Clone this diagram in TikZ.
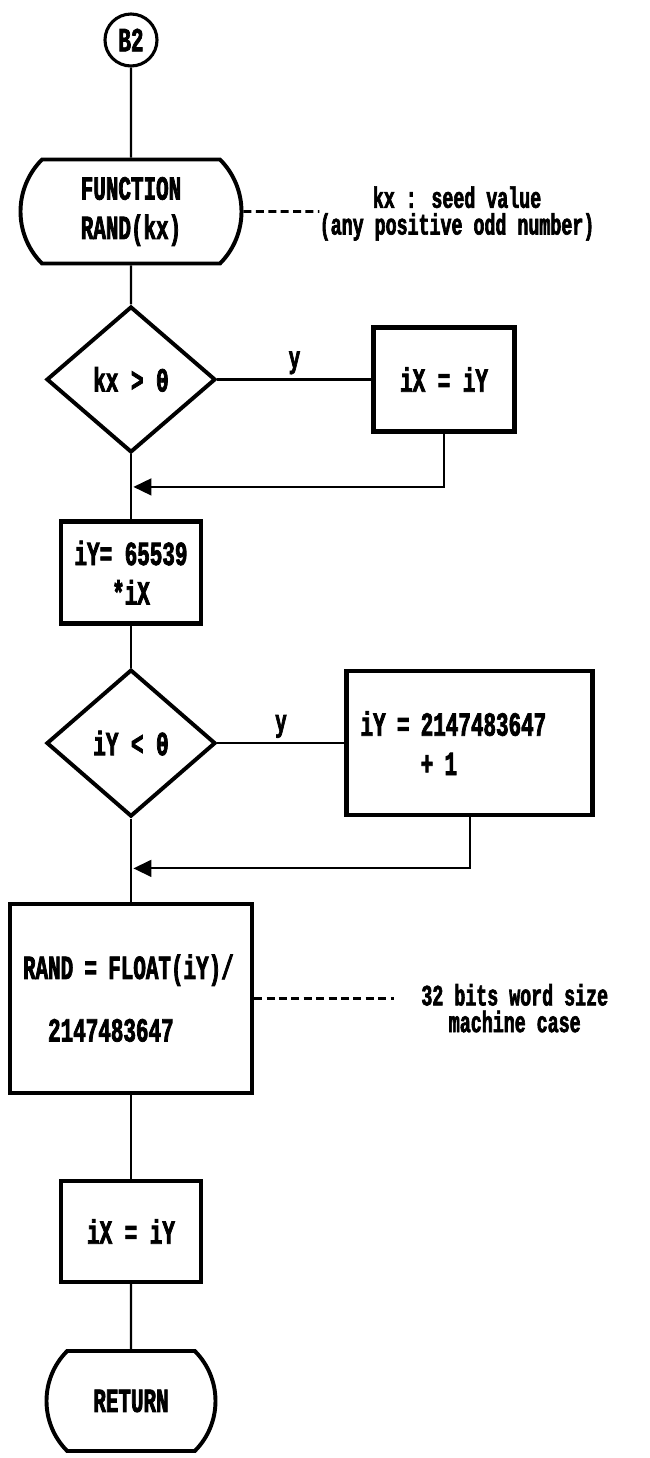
\documentclass[tikz,border=0pt]{standalone}
\usepackage{fontspec}
\newfontfamily\dotfont{Liberation Mono}[FakeStretch=0.62,FakeBold=2.2]
\usetikzlibrary{arrows.meta,positioning,calc,shapes.geometric,shapes.misc}
\tikzset{
  chart/.style={align=center, inner sep=0pt, text=black,
                font=\dotfont\bfseries\fontsize{24}{28}\selectfont},
  connector/.style={chart, circle, draw, line width=2.2pt, minimum size=13mm},
  terminal/.style={chart, rounded rectangle, rounded rectangle arc length=90,
                   draw, line width=2.8pt, minimum height=26mm},
  decision/.style={chart, diamond, draw, line width=2.8pt,
                   minimum width=42.25mm, minimum height=36.5mm},
  process/.style={chart, rectangle, draw, line width=3pt},
  note/.style={align=center, inner sep=0pt,
               font=\dotfont\bfseries\fontsize{21}{19}\selectfont},
  flow/.style={line width=1.5pt},
  flowback/.style={flow, -{Triangle[length=4.5mm, width=4.2mm]}, shorten >=0.6mm},
  notelink/.style={line width=2pt, dash pattern=on 2mm off 1.1mm},
  flowlabel/.style={font=\dotfont\bfseries\fontsize{22}{24}\selectfont, inner sep=3pt},
}
\begin{document}
\begin{tikzpicture}[node distance=11mm and 38mm]
  \useasboundingbox (0,0) rectangle (162.5mm,-364.5mm);
  \node[connector] (b2) at (32.75mm,-10mm) {B2};
  \node[terminal, minimum width=55.25mm, below=22.5mm of b2] (fn) {FUNCTION\\RAND(kx)};
  \node[decision, below=9.75mm of fn] (kxpos) {kx > 0};
  \node[process, minimum width=35.25mm, minimum height=26mm, right=38.5mm of kxpos] (copyx) {iX = iY};
  \node[process, minimum width=35mm, minimum height=25.5mm, below=16.25mm of kxpos] (mult) {iY= 65539\\*iX};
  \node[decision, minimum height=36.75mm, below=10.5mm of mult] (iyneg) {iY < 0};
  \node[process, minimum width=61.5mm, minimum height=36mm, text width=54.5mm, align=left,
        right=31.75mm of iyneg] (wrap) {iY = 2147483647\\\phantom{iY = }+ 1};
  \node[process, minimum width=60.5mm, minimum height=47.25mm, text width=54mm, align=left,
        below=20.75mm of iyneg] (rand) {RAND = FLOAT(iY)/\\[5.8mm]\phantom{RA}2147483647};
  \node[process, minimum width=35mm, minimum height=25.25mm, below=21mm of rand] (keep) {iX = iY};
  \node[terminal, minimum width=42.25mm, minimum height=25mm, below=16.25mm of keep] (ret) {RETURN};
  % side notes
  \node[note, right=19mm of fn, yshift=-0.5mm] (seed) {kx : seed value\\(any positive odd number)};
  \node[note, right=41.75mm of rand, yshift=-2.5mm] (wordsize) {32 bits word size\\machine case};
  % main flow
  \draw[flow] (b2) -- (fn);
  \draw[flow] (fn) -- (kxpos);
  \draw[flow] (kxpos) -- (mult);
  \draw[flow] (kxpos) -- node[flowlabel, above] {y} (copyx);
  \coordinate (join1) at ($(kxpos.south)!0.5!(mult.north)$);
  \draw[flowback] (copyx) |- (join1);
  \draw[flow] (mult) -- (iyneg);
  \draw[flow] (iyneg) -- node[flowlabel, above] {y} (wrap);
  \draw[flow] (iyneg) -- (rand);
  \coordinate (join2) at ($(iyneg.south)!0.6!(rand.north)$);
  \draw[flowback] (wrap) |- (join2);
  \draw[flow] (rand) -- (keep);
  \draw[flow] (keep) -- (ret);
  \draw[notelink] (fn) -- (fn.east -| seed.west);
  \draw[notelink, shorten >=6.75mm] (rand) -- (rand.east -| wordsize.west);
\end{tikzpicture}
\end{document}
